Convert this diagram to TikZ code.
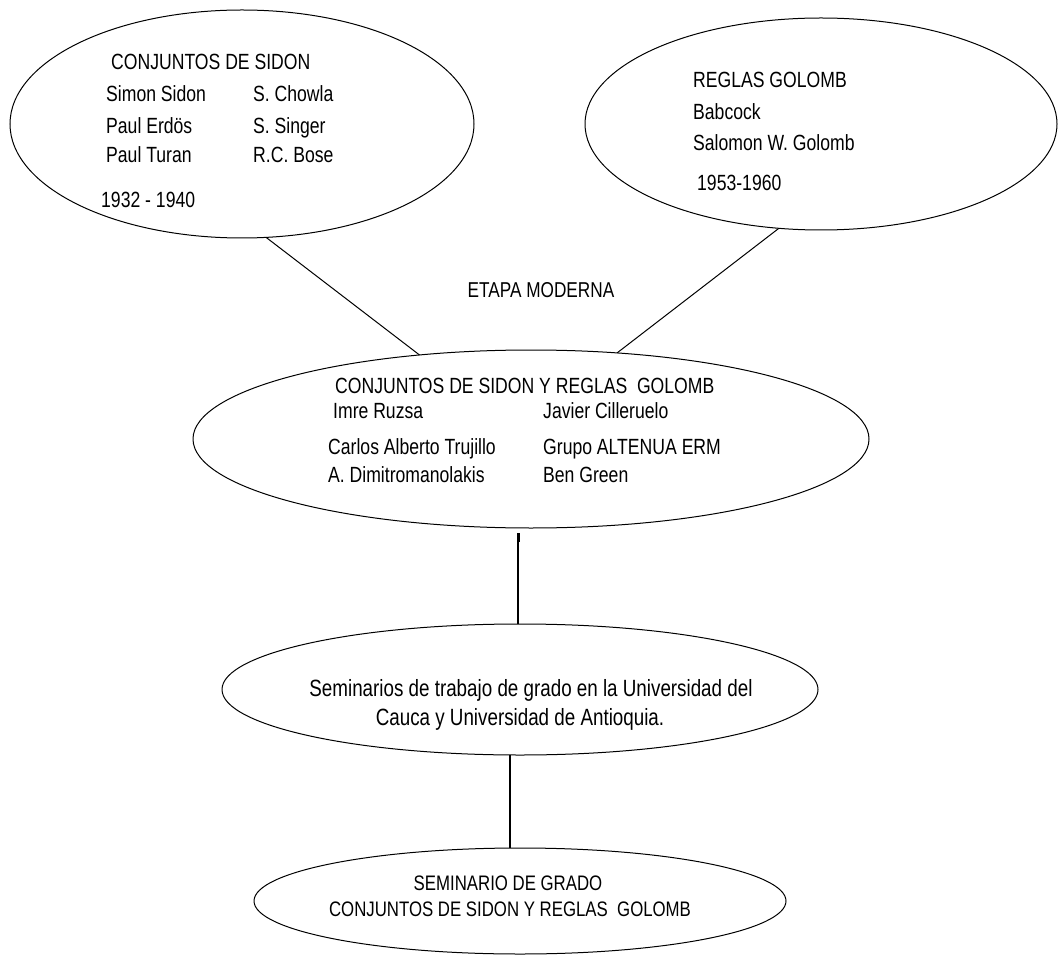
\documentclass[tikz,border=0pt]{standalone}
\usepackage{fontspec}
\setmainfont[FakeStretch=0.8]{Liberation Sans}
\usetikzlibrary{shapes.geometric}
\begin{document}
\begin{tikzpicture}[x=1pt,y=-1pt,
  oval/.style={draw=black, line width=1pt, ellipse, inner sep=0pt, outer sep=0pt},
  txt/.style={inner sep=0pt, anchor=base west},
  ctxt/.style={inner sep=0pt, anchor=base},
  link/.style={draw=black, line width=1pt},
  fa/.style={font=\fontsize{22}{26}\selectfont},
  fb/.style={font=\fontsize{22}{26}\selectfont},
  fc/.style={font=\fontsize{22}{26}\selectfont},
  fd/.style={font=\fontsize{23.5}{28}\selectfont},
  fe/.style={font=\fontsize{21}{25}\selectfont},
  fm/.style={font=\fontsize{21.5}{26}\selectfont}]
\useasboundingbox (0,0) rectangle (1059,957);
\fill[white] (0,0) rectangle (1059,957);

% ellipses
\node[oval, minimum width=464pt, minimum height=228pt] (e1) at (242,124) {};
\node[oval, minimum width=472pt, minimum height=212pt] (e2) at (821,124) {};
\node[oval, minimum width=676pt, minimum height=178pt] (e3) at (531,439) {};
\node[oval, minimum width=596pt, minimum height=131pt] (e4) at (520,689.5) {};
\node[oval, minimum width=532pt, minimum height=106pt] (e5) at (520,901) {};

% ellipse 1 text
\node[txt, fa] (t1a) at (111,70) {CONJUNTOS DE SIDON};
\node[txt, fa] (t1b) at (106,102) {Simon Sidon};
\node[txt, fa] (t1c) at (253,102) {S. Chowla};
\node[txt, fa] (t1d) at (106,134) {Paul Erdös};
\node[txt, fa] (t1e) at (253,134) {S. Singer};
\node[txt, fa] (t1f) at (106,163) {Paul Turan};
\node[txt, fa] (t1g) at (253,163) {R.C. Bose};
\node[txt, fa] (t1h) at (101,208) {1932 - 1940};

% ellipse 2 text
\node[txt, fb] (t2a) at (693,88) {REGLAS GOLOMB};
\node[txt, fb] (t2b) at (693,120) {Babcock};
\node[txt, fb] (t2c) at (693,151) {Salomon W. Golomb};
\node[txt, fb] (t2d) at (697,191) {1953-1960};

% middle label
\node[ctxt, fm] (etapa) at (541,298) {ETAPA MODERNA};

% ellipse 3 text
\node[txt, fc] (t3a) at (335,393) {CONJUNTOS DE SIDON Y REGLAS\ \ GOLOMB};
\node[txt, fc] (t3b) at (333,418) {Imre Ruzsa};
\node[txt, fc] (t3c) at (543,418) {Javier Cilleruelo};
\node[txt, fc] (t3d) at (328,454) {Carlos Alberto Trujillo};
\node[txt, fc] (t3e) at (543,454) {Grupo ALTENUA ERM};
\node[txt, fc] (t3f) at (328,482) {A. Dimitromanolakis};
\node[txt, fc] (t3g) at (543,482) {Ben Green};

% ellipse 4 text
\node[ctxt, fd] (t4a) at (531,696) {Seminarios de trabajo de grado en la Universidad del};
\node[ctxt, fd] (t4b) at (520,725) {Cauca y Universidad de Antioquia.};

% ellipse 5 text
\node[ctxt, fe] (t5a) at (508,890) {SEMINARIO DE GRADO};
\node[ctxt, fe] (t5b) at (510,916) {CONJUNTOS DE SIDON Y REGLAS\ \ GOLOMB};

% connectors
\draw[link] (e1.-78.5) -- (e3.143.6);
\draw[link] (e2.-112.4) -- (e3.45.3);
\coordinate (c3) at (518,533);
\draw[black, line width=3pt] (c3) -- ++(0,9);
\draw[link, line width=1.4pt] (c3) -- (c3 |- e4.north);
\coordinate (c4) at (510,0);
\draw[link, line width=1.4pt] (c4 |- e4.south) -- (c4 |- e5.north);
\end{tikzpicture}
\end{document}
